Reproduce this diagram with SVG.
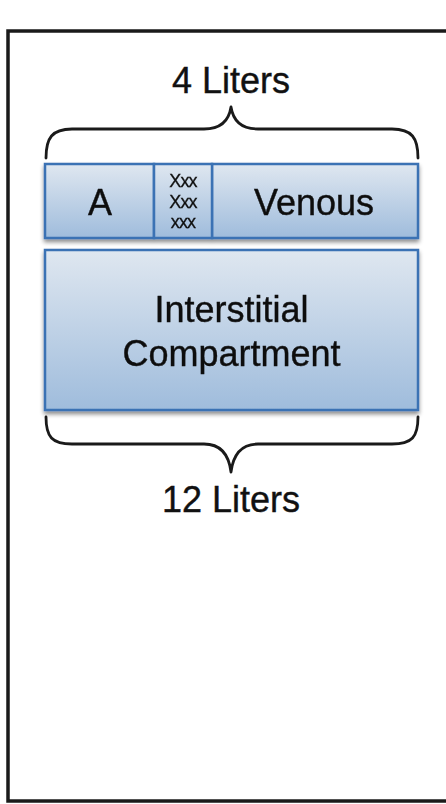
<svg xmlns="http://www.w3.org/2000/svg" width="446" height="804" viewBox="0 0 446 804">
<defs>
<linearGradient id="boxGrad" x1="0" y1="0" x2="0" y2="1">
<stop offset="0" stop-color="#dfe7f0"/>
<stop offset="1" stop-color="#9fbcdc"/>
</linearGradient>
<filter id="shadow" x="-10%" y="-10%" width="120%" height="130%">
<feGaussianBlur in="SourceAlpha" stdDeviation="2"/>
<feOffset dx="0" dy="3" result="b"/>
<feComponentTransfer><feFuncA type="linear" slope="0.45"/></feComponentTransfer>
<feMerge><feMergeNode/><feMergeNode in="SourceGraphic"/></feMerge>
</filter>
</defs>
<style>
.box{fill:url(#boxGrad);stroke:#3a72b4;stroke-width:2.5}
.lbl{font-family:"Liberation Sans",Arial,sans-serif;fill:#111111;stroke:#111111;stroke-width:0.4;text-anchor:middle}
.big{font-size:36px}
.small{font-size:18px;letter-spacing:-0.8px;stroke-width:0.3}
.brace{fill:none;stroke:#1a1a1a;stroke-width:2.8;stroke-linecap:round;stroke-linejoin:round}
</style>
<rect x="0" y="0" width="446" height="804" fill="#ffffff"/>
<rect id="frame" x="8" y="31" width="470" height="770" fill="#ffffff" stroke="#1a1a1a" stroke-width="3.5"/>
<g id="label-4-liters"><text class="lbl big" x="231" y="93">4 Liters</text></g>
<g id="connectors">
<path class="brace" d="M46,158 C46,138 52,129 72,129 L204,129 C222,129 229,120 231,107 C233,120 240,129 258,129 L392,129 C412,129 418,138 418,158"/>
<path class="brace" d="M46,417 C46,437 52,444 72,444 L204,444 C222,444 229,456 231,472 C233,456 240,444 258,444 L392,444 C412,444 418,437 418,417"/>
</g>
<g filter="url(#shadow)">
<g id="node-a"><rect class="box" x="45" y="164" width="109" height="74"/><text class="lbl big" x="100" y="215">A</text></g>
<g id="node-venous"><rect class="box" x="212" y="164" width="206" height="74"/><text class="lbl big" x="314" y="215">Venous</text></g>
<g id="node-xxx"><rect class="box" x="154" y="164" width="58" height="74"/><text class="lbl small" x="183" y="187">Xxx</text><text class="lbl small" x="183" y="208">Xxx</text><text class="lbl small" x="183" y="228">xxx</text></g>
<g id="node-interstitial"><rect class="box" x="45" y="250" width="373" height="160"/><text class="lbl big" x="231.5" y="322">Interstitial</text><text class="lbl big" x="231.5" y="366">Compartment</text></g>
</g>
<g id="label-12-liters"><text class="lbl big" x="231" y="512">12 Liters</text></g>
</svg>
